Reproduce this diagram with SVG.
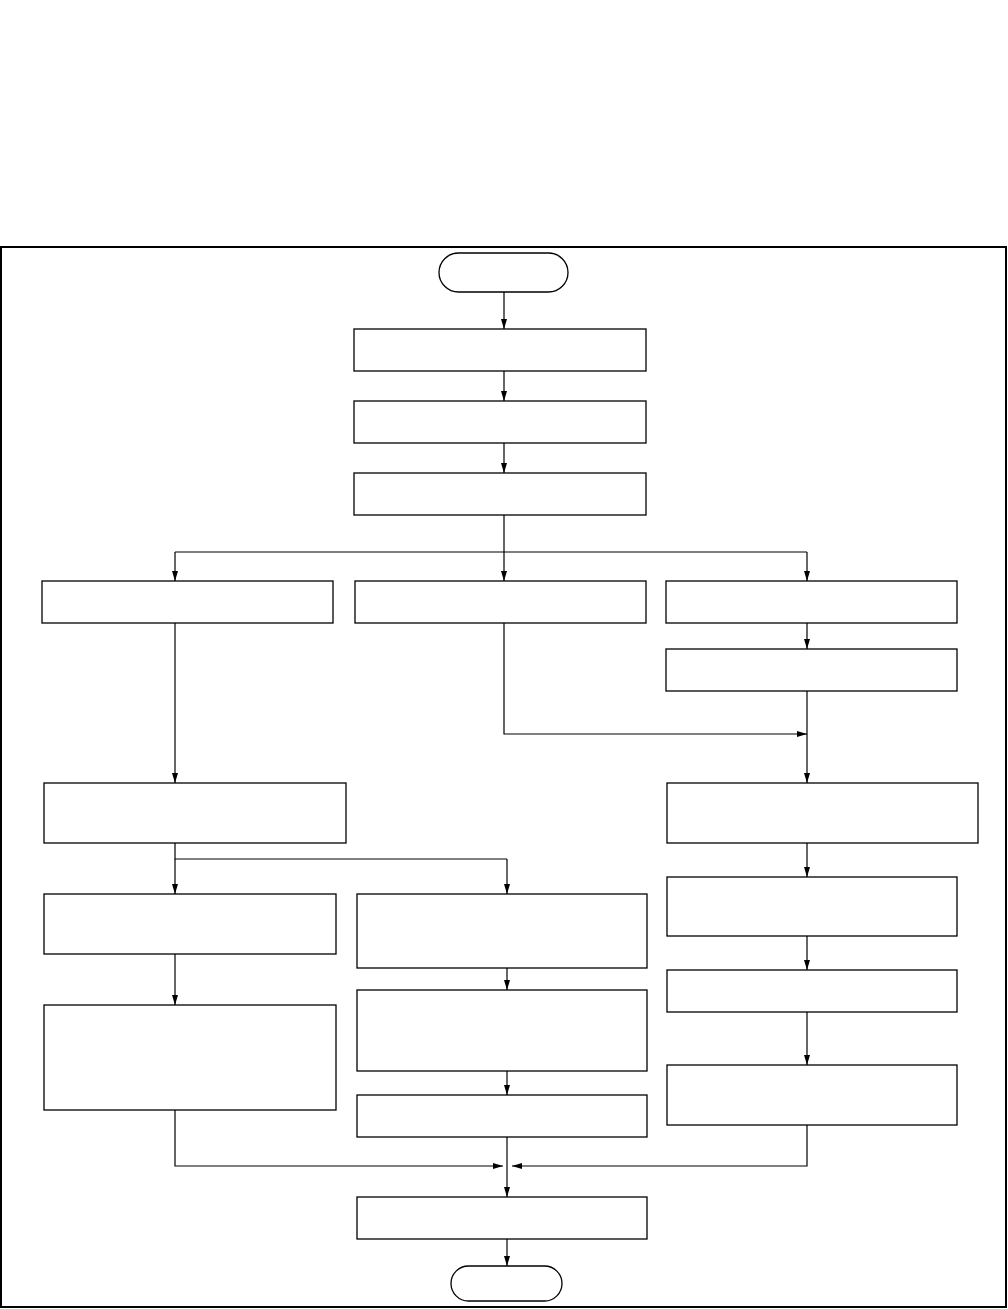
<svg xmlns="http://www.w3.org/2000/svg" width="1008" height="1309" viewBox="0 0 1008 1309">
<style>
.n{fill:#fff;stroke:#000;stroke-width:1.3}
.c{fill:none;stroke:#000;stroke-width:1.2}
.a{marker-end:url(#ah)}
</style>
<defs>
<marker id="ah" markerWidth="10" markerHeight="6" refX="10" refY="3" orient="auto" markerUnits="userSpaceOnUse">
<path d="M0,0 L10,3 L0,6 Z" fill="#000"/>
</marker>
</defs>
<rect width="1008" height="1309" fill="#fff"/>
<rect x="1" y="247" width="1005" height="1060" fill="none" stroke="#000" stroke-width="2"/>
<g id="connectors">
<path class="c a" d="M504,292 V329"/>
<path class="c a" d="M504,371 V401"/>
<path class="c a" d="M504,443 V473"/>
<path class="c" d="M504,515 V552"/>
<path class="c" d="M175,552 H807"/>
<path class="c a" d="M175,552 V581"/>
<path class="c a" d="M504,552 V581"/>
<path class="c a" d="M807,552 V581"/>
<path class="c a" d="M807,623 V649"/>
<path class="c a" d="M175,623 V783"/>
<path class="c a" d="M504,623 V734 H807"/>
<path class="c a" d="M807,691 V783"/>
<path class="c" d="M175,843 V859 H507"/>
<path class="c a" d="M175,859 V894"/>
<path class="c a" d="M507,859 V894"/>
<path class="c a" d="M175,954 V1005"/>
<path class="c a" d="M507,968 V990"/>
<path class="c a" d="M507,1071 V1095"/>
<path class="c a" d="M807,843 V877"/>
<path class="c a" d="M807,936 V970"/>
<path class="c a" d="M807,1012 V1065"/>
<path class="c a" d="M175,1110 V1166 H503"/>
<path class="c a" d="M807,1125 V1166 H512"/>
<path class="c a" d="M507,1137 V1197"/>
<path class="c a" d="M507,1239 V1266"/>
</g>
<g id="start"><rect class="n" x="439" y="253" width="129" height="39" rx="19.5"/></g>
<g id="n1"><rect class="n" x="354" y="329" width="292" height="42"/></g>
<g id="n2"><rect class="n" x="354" y="401" width="292" height="42"/></g>
<g id="n3"><rect class="n" x="354" y="473" width="292" height="42"/></g>
<g id="n4"><rect class="n" x="42" y="581" width="291" height="42"/></g>
<g id="n5"><rect class="n" x="355" y="581" width="291" height="42"/></g>
<g id="n6"><rect class="n" x="666" y="581" width="291" height="42"/></g>
<g id="n7"><rect class="n" x="666" y="649" width="291" height="42"/></g>
<g id="n8"><rect class="n" x="44" y="783" width="302" height="60"/></g>
<g id="n9"><rect class="n" x="667" y="783" width="311" height="60"/></g>
<g id="n10"><rect class="n" x="44" y="894" width="292" height="60"/></g>
<g id="n11"><rect class="n" x="357" y="894" width="290" height="74"/></g>
<g id="n12"><rect class="n" x="44" y="1005" width="292" height="105"/></g>
<g id="n13"><rect class="n" x="357" y="990" width="290" height="81"/></g>
<g id="n14"><rect class="n" x="357" y="1095" width="290" height="42"/></g>
<g id="n15"><rect class="n" x="667" y="877" width="290" height="59"/></g>
<g id="n16"><rect class="n" x="667" y="970" width="290" height="42"/></g>
<g id="n17"><rect class="n" x="667" y="1065" width="290" height="60"/></g>
<g id="n18"><rect class="n" x="357" y="1197" width="290" height="42"/></g>
<g id="end"><rect class="n" x="451" y="1266" width="111" height="35" rx="17.5"/></g>
</svg>
